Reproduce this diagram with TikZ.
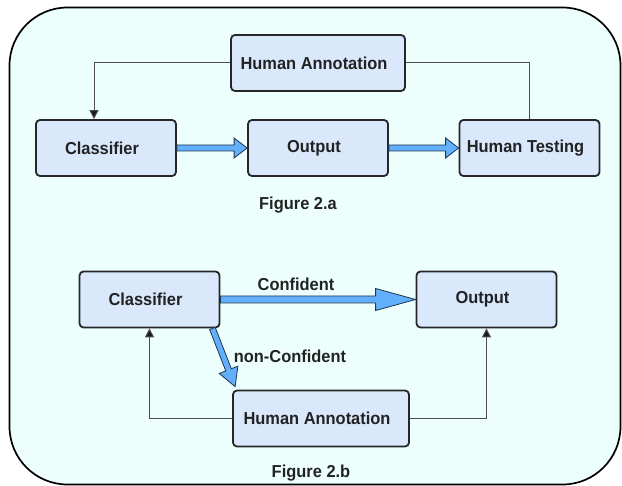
\documentclass[tikz,border=0pt]{standalone}
\usepackage{fontspec}
\setmainfont{Liberation Sans}[FakeStretch=0.95]
\usetikzlibrary{calc,arrows.meta}
\definecolor{bgfill}{HTML}{EDFFFD}
\definecolor{boxfill}{HTML}{DAE8FC}
\definecolor{fatfill}{HTML}{62B0FC}
\definecolor{fatedge}{HTML}{22354F}
\definecolor{txt}{HTML}{222222}
\newcommand\fatarr[5]{%
  \coordinate (fa-s) at (#1);
  \coordinate (fa-e) at (#2);
  \coordinate (fa-h) at ($(fa-e)!#3pt!(fa-s)$);
  \filldraw[fatarrow] ($(fa-s)!#5pt!90:(fa-e)$) -- ($(fa-h)!#5pt!90:(fa-e)$) --
    ($(fa-h)!#4pt!90:(fa-e)$) -- (fa-e) -- ($(fa-h)!#4pt!-90:(fa-e)$) --
    ($(fa-h)!#5pt!-90:(fa-e)$) -- ($(fa-s)!#5pt!-90:(fa-e)$) -- cycle;}
\begin{document}
\begin{tikzpicture}[x=1pt,y=-1pt,
  box/.style={draw=black!85, line width=1.8pt, fill=boxfill, rounded corners=4pt,
    inner sep=0pt, text=txt, font=\fontsize{17.3}{20}\selectfont\bfseries,
    execute at end node={\hspace*{8pt}}},
  lbl/.style={inner sep=0pt, text=txt, font=\fontsize{17.3}{20}\selectfont\bfseries},
  thinline/.style={draw=black!70, line width=1pt},
  thinarrow/.style={thinline, -{Triangle[length=9pt,width=9pt,fill=black!90]}},
  fatarrow/.style={draw=fatedge, fill=fatfill, line width=0.8pt, line join=miter}]
\useasboundingbox (0,0) rectangle (622,486);
\draw[line width=1.7pt, fill=bgfill, rounded corners=58pt] (9.5,7.5) rectangle (620.5,484.5);

% Figure 2.a
\node[box, minimum width=174pt, minimum height=56pt] (ha1) at (318,63) {Human Annotation};
\node[box, minimum width=140pt, minimum height=56pt] (cl1) at (106,148) {Classifier};
\node[box, minimum width=140pt, minimum height=56pt] (out1) at (318,148) {Output};
\node[box, minimum width=140pt, minimum height=56pt] (ht) at (529.5,148) {Human Testing};
\node[lbl] (figa) at (298,205) {Figure 2.a};
\coordinate (lx1) at (94,0);
\draw[thinarrow] (ha1.west) -| (cl1.north -| lx1);
\draw[thinline] (ha1.east) -| (ht.north);
\fatarr{cl1.east}{out1.west}{13}{10}{3}
\fatarr{out1.east}{ht.west}{13}{10}{3}

% Figure 2.b
\node[box, minimum width=140pt, minimum height=56pt] (cl2) at (149.5,299.5) {Classifier};
\node[box, minimum width=140pt, minimum height=56pt] (out2) at (486.5,299.5) {Output};
\node[box, minimum width=176pt, minimum height=56pt] (ha2) at (321,418.5) {Human Annotation};
\node[lbl] (conf) at (296,284) {Confident};
\node[lbl] (nconf) at (290,356) {non-Confident};
\node[lbl] (figb) at (311,473) {Figure 2.b};
\draw[thinarrow] (ha2.west) -| (cl2.south);
\draw[thinarrow] (ha2.east) -| (out2.south);
\fatarr{cl2.east}{out2.west}{40}{11}{3.5}
\coordinate (ncs) at ($(cl2.south east)+(-8,0)$);
\coordinate (nce) at ($(ha2.north west)+(3,-3)$);
\fatarr{ncs}{nce}{18}{10}{3}
\end{tikzpicture}
\end{document}
